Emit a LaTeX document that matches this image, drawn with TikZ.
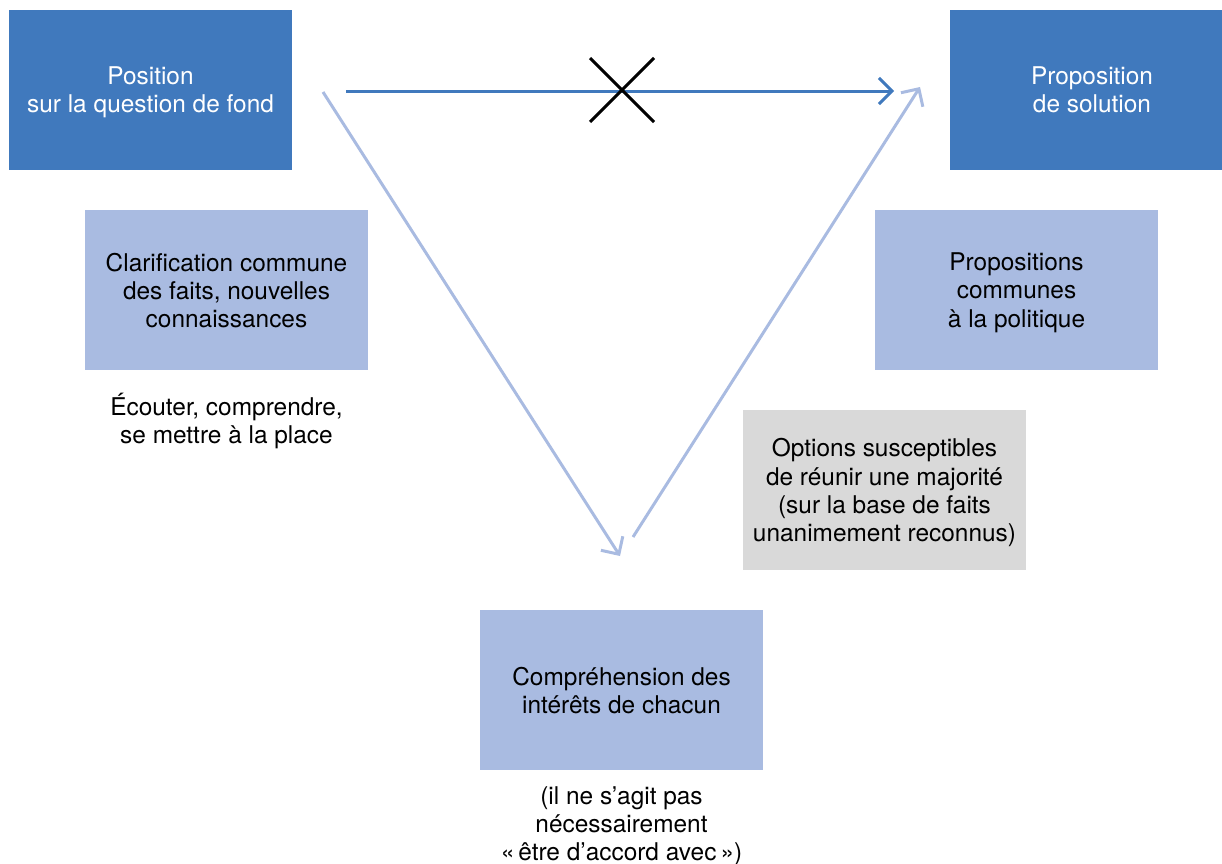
\documentclass[tikz,border=0pt]{standalone}
\usepackage{fontspec}
\setmainfont{TeX Gyre Heros}
\usetikzlibrary{arrows.meta}

\definecolor{dunkelblau}{HTML}{4079BD}
\definecolor{hellblau}{HTML}{A9BBE1}
\definecolor{hellgrau}{HTML}{D9D9D9}

\tikzset{
    kasten/.style={minimum width=5.66cm,minimum height=3.2cm,inner sep=0pt,
        align=center,font=\fontsize{13.9}{16}\selectfont,text depth=-3.8pt},
    notiz/.style={align=center,font=\fontsize{13.9}{15.8}\selectfont},
    pfeil/.style={line width=1.7pt,-{Straight Barb[length=2.6mm,width=5.2mm,line width=1.7pt]}}
}

\begin{document}
\begin{tikzpicture}[x=0.02cm,y=-0.02cm]
        % =========================================================
        % Skala: 1 Einheit = 1 Pixel der Vorlage (1222 x 863)
        % =========================================================
        \useasboundingbox (0,0) rectangle (1222,863);

        % ---------------------------------------------------------
        % Obere Reihe: Position -> Proposition
        % ---------------------------------------------------------
        \node[kasten,fill=dunkelblau,text=white] (position) at (150.5,90)
            {Position\\sur la question de fond};
        \node[kasten,fill=dunkelblau,text=white,minimum width=5.68cm] (proposition) at (1092,90)
            {Proposition\\de solution};

        % ---------------------------------------------------------
        % Zwischenschritte
        % ---------------------------------------------------------
        \node[kasten,fill=hellblau] (klaerung) at (226.5,290)
            {Clarification commune\\des faits, nouvelles\\connaissances};
        \node[notiz] (zuhoeren) at (226.5,421)
            {Écouter, comprendre,\\se mettre à la place};

        \node[kasten,fill=hellblau] (politik) at (1016.5,290)
            {Propositions\\communes\\à la politique};

        \node[kasten,fill=hellgrau] (optionen) at (884.5,490)
            {Options susceptibles\\de réunir une majorité\\(sur la base de faits\\unanimement reconnus)};

        % ---------------------------------------------------------
        % Unten: Interessen
        % ---------------------------------------------------------
        \node[kasten,fill=hellblau] (interessen) at (621.5,690)
            {Compréhension des\\intérêts de chacun};
        \node[notiz] (hinweis) at (621.5,826)
            {(il ne s’agit pas\\nécessairement\\«\,être d’accord avec\,»)};

        % ---------------------------------------------------------
        % Pfeile
        % ---------------------------------------------------------
        \coordinate (direkt-a) at (346,91);
        \coordinate (direkt-b) at (894,91);
        \coordinate (runter-a) at (323,92);
        \coordinate (runter-b) at (620,556);
        \coordinate (hoch-a) at (633,537);
        \coordinate (hoch-b) at (920,87);

        \draw[pfeil,dunkelblau] (direkt-a) -- (direkt-b);
        \draw[pfeil,hellblau] (runter-a) -- (runter-b);
        \draw[pfeil,hellblau] (hoch-a) -- (hoch-b);

        % Durchgestrichen
        \coordinate (kreuz) at (622,90);
        \draw[line width=1.7pt] ([shift={(-32,-32)}]kreuz) -- ([shift={(32,32)}]kreuz);
        \draw[line width=1.7pt] ([shift={(-32,32)}]kreuz) -- ([shift={(32,-32)}]kreuz);

    \end{tikzpicture}
\end{document}
